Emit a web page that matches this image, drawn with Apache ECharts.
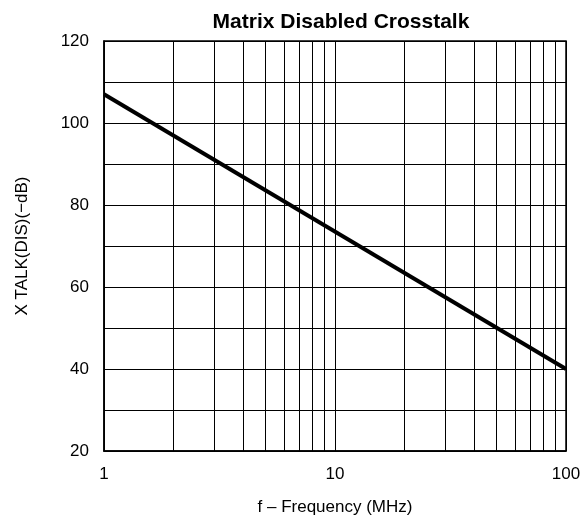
<!DOCTYPE html>
<html><head><meta charset="utf-8">
<script src="https://cdn.jsdelivr.net/npm/echarts@6/dist/echarts.min.js"></script>
<style>html,body{margin:0;padding:0;background:#fff}#c{width:582px;height:516px}</style>
</head><body><div id="c"></div>
<script>
const freqMHz = [1, 100];
const xtalkDb = [107, 40];
const minorFreqs = [2,3,4,5,6,7,8,9,20,30,40,50,60,70,80,90];
const titleText = 'Matrix Disabled Crosstalk';
const xName = 'f \u2013 Frequency (MHz)';
const yName = 'X TALK(DIS)(\u2212dB)';
const F = 'Liberation Sans, Arial, sans-serif';

const chart = echarts.init(document.getElementById('c'), null, {renderer:'canvas'});
chart.setOption({
  animation:false,
  title:{text:titleText,left:336,top:7,textAlign:'center',textStyle:{fontFamily:F,fontSize:21,fontWeight:'bold',color:'#000'}},
  grid:{left:104,right:16,top:41,bottom:65,show:true,borderColor:'#000',borderWidth:1.5,containLabel:false,outerBoundsMode:'none'},
  xAxis:{type:'log',logBase:10,min:1,max:100,name:xName,nameLocation:'middle',nameGap:48,
    nameTextStyle:{fontFamily:F,fontSize:17,color:'#000'},
    axisLine:{show:true,lineStyle:{color:'#000',width:1.5}},axisTick:{show:false},
    axisLabel:{fontFamily:F,fontSize:17,color:'#000',margin:15},
    splitLine:{show:true,lineStyle:{color:'#000',width:1}}},
  yAxis:{type:'value',min:20,max:120,interval:20,name:yName,nameLocation:'middle',nameGap:73,
    nameTextStyle:{fontFamily:F,fontSize:17,color:'#000'},
    axisLine:{show:true,lineStyle:{color:'#000',width:1.5}},axisTick:{show:false},
    axisLabel:{fontFamily:F,fontSize:17,color:'#000',margin:15},
    splitLine:{show:true,lineStyle:{color:'#000',width:1}},
    minorTick:{show:false,splitNumber:2},
    minorSplitLine:{show:true,lineStyle:{color:'#000',width:1}}},
  series:[
    {type:'line',data:minorFreqs.map(()=>null),silent:true,symbol:'none',
     markLine:{silent:true,symbol:'none',label:{show:false},lineStyle:{color:'#000',width:1,type:'solid'},
       data:minorFreqs.map(v=>({xAxis:v}))}},
    {type:'line',data:freqMHz.map((f,i)=>[f,xtalkDb[i]]),symbol:'none',lineStyle:{color:'#000',width:4},z:5}
  ]
});
</script></body></html>
